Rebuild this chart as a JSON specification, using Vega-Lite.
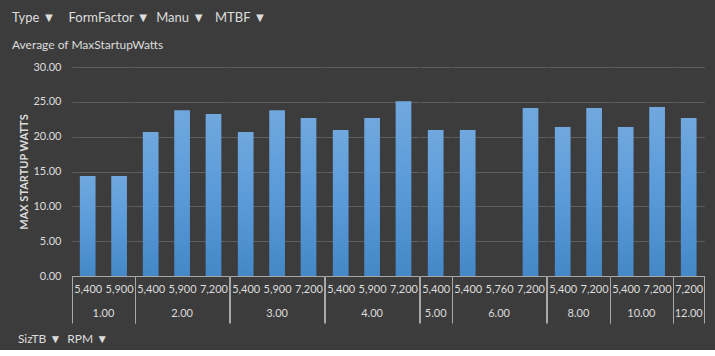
{
  "$schema": "https://vega.github.io/schema/vega-lite/v6.json",
  "background": "#3c3c3c",
  "padding": {"left": 11, "top": 12, "right": 10, "bottom": 5},
  "title": {
    "text": "Type ▼\u2002\u2002FormFactor ▼\u2002Manu ▼\u2002\u00a0MTBF ▼",
    "subtitle": "Average of MaxStartupWatts",
    "anchor": "start",
    "frame": "bounds",
    "dx": -6,
    "font": "Lato",
    "fontSize": 13,
    "fontWeight": "normal",
    "color": "#dcdcdc",
    "subtitleFont": "Lato",
    "subtitleFontSize": 12,
    "subtitleColor": "#dcdcdc",
    "subtitlePadding": 15,
    "offset": 10
  },
  "data": {
    "values": [
      {"SizTB": "1.00", "RPM": "5,400", "MaxStartupWatts": 14.35},
      {"SizTB": "1.00", "RPM": "5,900", "MaxStartupWatts": 14.35},
      {"SizTB": "2.00", "RPM": "5,400", "MaxStartupWatts": 20.66},
      {"SizTB": "2.00", "RPM": "5,900", "MaxStartupWatts": 23.8},
      {"SizTB": "2.00", "RPM": "7,200", "MaxStartupWatts": 23.24},
      {"SizTB": "3.00", "RPM": "5,400", "MaxStartupWatts": 20.66},
      {"SizTB": "3.00", "RPM": "5,900", "MaxStartupWatts": 23.8},
      {"SizTB": "3.00", "RPM": "7,200", "MaxStartupWatts": 22.67},
      {"SizTB": "4.00", "RPM": "5,400", "MaxStartupWatts": 20.95},
      {"SizTB": "4.00", "RPM": "5,900", "MaxStartupWatts": 22.67},
      {"SizTB": "4.00", "RPM": "7,200", "MaxStartupWatts": 25.1},
      {"SizTB": "5.00", "RPM": "5,400", "MaxStartupWatts": 20.95},
      {"SizTB": "6.00", "RPM": "5,400", "MaxStartupWatts": 20.95},
      {"SizTB": "6.00", "RPM": "5,760", "MaxStartupWatts": null},
      {"SizTB": "6.00", "RPM": "7,200", "MaxStartupWatts": 24.1},
      {"SizTB": "8.00", "RPM": "5,400", "MaxStartupWatts": 21.38},
      {"SizTB": "8.00", "RPM": "7,200", "MaxStartupWatts": 24.1},
      {"SizTB": "10.00", "RPM": "5,400", "MaxStartupWatts": 21.38},
      {"SizTB": "10.00", "RPM": "7,200", "MaxStartupWatts": 24.25},
      {"SizTB": "12.00", "RPM": "7,200", "MaxStartupWatts": 22.67}
    ]
  },
  "facet": {
    "column": {
      "field": "SizTB",
      "type": "ordinal",
      "sort": ["1.00", "2.00", "3.00", "4.00", "5.00", "6.00", "8.00", "10.00", "12.00"],
      "title": "SizTB ▼\u2002RPM ▼\u2800\u2800",
      "header": {
        "labelOrient": "bottom",
        "labelFont": "Lato",
        "labelFontSize": 11,
        "labelColor": "#dcdcdc",
        "labelPadding": 32,
        "titleOrient": "bottom",
        "titleAnchor": "start",
        "titleAlign": "center",
        "titleFont": "Lato",
        "titleFontSize": 12,
        "titleFontWeight": "normal",
        "titleColor": "#dcdcdc",
        "titlePadding": 5
      }
    }
  },
  "spacing": 0,
  "bounds": "flush",
  "resolve": {"scale": {"x": "independent"}},
  "spec": {
    "width": {"step": 31.4},
    "height": 209,
    "mark": {
      "type": "bar",
      "width": {"band": 0.5},
      "invalid": "show",
      "color": {
        "gradient": "linear",
        "x1": 0, "y1": 0, "x2": 0, "y2": 1,
        "stops": [
          {"offset": 0, "color": "#70a8de"},
          {"offset": 0.5, "color": "#5a9ad9"},
          {"offset": 1, "color": "#4488c8"}
        ]
      }
    },
    "encoding": {
      "x": {
        "field": "RPM",
        "type": "ordinal",
        "sort": null,
        "scale": {"paddingInner": 0, "paddingOuter": 0},
        "axis": {
          "title": null,
          "labelAngle": 0,
          "labelFont": "Lato",
          "labelFontSize": 11,
          "labelColor": "#dcdcdc",
          "labelPadding": -40,
          "domainColor": "#a8a8a8",
          "domainWidth": 1,
          "tickBand": "extent",
          "tickColor": "#a8a8a8",
          "tickSize": 47,
          "tickWidth": 1,
          "tickOpacity": {
            "condition": {"test": "datum.index == 1 || datum.index < 0 || (datum.index == 0 && datum.value == '7,200')", "value": 1},
            "value": 0
          },
          "grid": false
        }
      },
      "y": {
        "field": "MaxStartupWatts",
        "type": "quantitative",
        "scale": {"domain": [0, 30], "nice": false},
        "axis": {
          "title": "MAX STARTUP WATTS",
          "titleFont": "Lato",
          "titleFontSize": 11,
          "titleFontWeight": "bold",
          "titleColor": "#dcdcdc",
          "titlePadding": 3,
          "values": [0, 5, 10, 15, 20, 25, 30],
          "format": ".2f",
          "labelFont": "Lato",
          "labelFontSize": 11,
          "labelColor": "#dcdcdc",
          "labelPadding": 11,
          "domain": false,
          "ticks": false,
          "gridColor": "#5e5e5e",
          "gridWidth": 1
        }
      }
    }
  },
  "config": {
    "view": {"stroke": null}
  }
}
